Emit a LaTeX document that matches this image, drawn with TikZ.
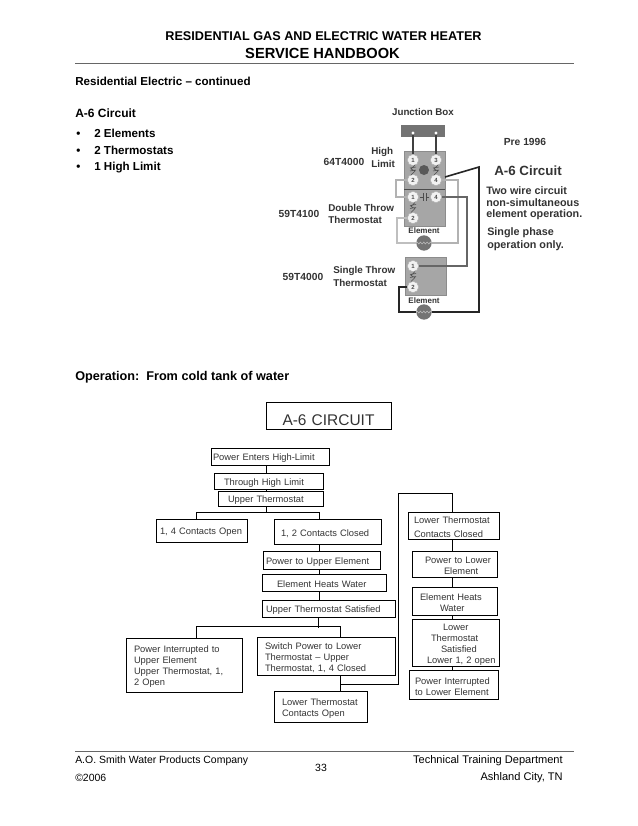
\documentclass[tikz,border=0pt]{standalone}
\usepackage{fontspec}
\setmainfont{Liberation Sans}
\usetikzlibrary{decorations.pathmorphing}
\newcommand{\ind}[1]{\hspace*{\dimexpr#1pt*3/4\relax}}
\newcommand{\fsz}[2]{\fontsize{#1}{#2}\selectfont}
\begin{document}
\begin{tikzpicture}[
  x=0.75pt, y=-0.75pt,
  flowbox/.style 2 args={draw, line width=0.6pt, inner xsep=0pt, inner ysep=0pt, align=left,
    minimum width=#1*0.75pt, minimum height=#2*0.75pt, text width=#1*0.75pt,
    font=\fsz{7}{8.3}, text=black!80, text height=7.8pt},
  conn/.style={line width=0.6pt},
  head/.style={font=\fsz{8.7}{10}\bfseries, anchor=base west},
  foot/.style={font=\fsz{7.85}{9}},
  pic/.style={font=\fsz{7.7}{10}\bfseries, text=black!80},
  picsmall/.style={font=\fsz{7.4}{10}\bfseries, text=black!80, anchor=west},
  piclbl/.style={font=\fsz{8.1}{10}\bfseries, text=black!80, anchor=west},
  term/.style={circle, draw=gray!60, fill=white!90!gray, inner sep=0pt, minimum size=8.5pt,
    font=\fsz{4.5}{5}\bfseries, text=black!70},
  heater/.style={circle, fill=black!55, inner sep=0pt, minimum size=11.5pt},
  plate/.style={fill=black!35, draw=black!45},
  wire/.style={line width=1.2pt},
]
\useasboundingbox (0,0) rectangle (638,826);

%% Page header
\node[font=\fsz{9.5}{11}\bfseries] (hdra) at (323.5,36) {RESIDENTIAL GAS AND ELECTRIC WATER HEATER};
\node[font=\fsz{11}{13}\bfseries] (hdrb) at (322.5,53) {SERVICE HANDBOOK};
\draw[black!60] (75,63) -- (574,63);
\node[head, inner sep=0pt] (cont) at (75,85) {Residential Electric -- continued};
\node[head, inner sep=0pt, font=\fsz{9}{10}\bfseries] (circ) at (75,117.5) {A-6 Circuit};
\foreach \y/\t/\n in {134/2 Elements/a, 150.5/2 Thermostats/b, 167/1 High Limit/c} {
  \node[head, inner sep=0pt] (bul\n) at (76,\y+3.5) {•};
  \node[head, inner sep=0pt] (item\n) at (94,\y+3.5) {\t};
}
\node[head, inner sep=0pt, font=\fsz{9.5}{11}\bfseries] (oper) at (75,380) {Operation:\ \ From cold tank of water};

%% Circuit picture: plates
\fill[black!55] (401,125) rectangle (445,137);
\fill[plate] (404,151) rectangle (445,189);
\fill[plate] (404,189) rectangle (445,226);
\fill[plate] (405,257) rectangle (446,295);
\draw[black!70] (404,189) -- (445,189);
\node[heater, fill=black!65, minimum size=7.5pt] (limdot) at (424,170) {};

%% Circuit picture: terminals
\foreach \x/\y/\t/\n in {413/160/1/la, 436/160/3/lc, 413/180/2/lb, 436/180/4/ld,
    413/197/1/ua, 436/197/4/ud, 413/218/2/ub, 413/266/1/sa, 413/287/2/sb} {
  \node[term] (\n) at (\x,\y) {\t};
}
\node[circle, fill=white, inner sep=0pt, minimum size=2.5pt] (jba) at (413,133) {};
\node[circle, fill=white, inner sep=0pt, minimum size=2.5pt] (jbb) at (436,133) {};
\node[heater] (elema) at (424,243) {};
\node[heater] (elemb) at (424,312) {};

%% Circuit picture: contact marks
\foreach \x/\y in {413/170, 436/170, 413/207.5, 413/276.5} {
  \draw[black!70, line width=0.4pt] (\x-3,\y-2) -- (\x+3,\y-3) (\x-3,\y+1) -- (\x+3,\y)
    (\x+2,\y-5) -- (\x-2,\y-1) -- (\x+2,\y+1) -- (\x-2,\y+5);
}
\draw[black!70, line width=0.5pt] (420,197) -- (423,197) (423,193) -- (423,201)
  (429,197) -- (426,197) (426,193) -- (426,201);
\foreach \e in {elema, elemb} {
  \draw[black!25, line width=0.4pt, decorate, decoration={snake, amplitude=0.7pt, segment length=2.5pt}]
    (\e.west) -- (\e.east);
}

%% Circuit picture: wires
\draw[black!75, wire] (jba) -- (jba |- la.north);
\draw[black!75, wire] (jbb) -- (jbb |- lc.north);
\draw[black!30, wire] (lb.west) -- (396,180) -- (396,197) -- (ua.west);
\draw[black!25, wire] (ub.west) -- (397,218) -- (397,243) -- (elema.west);
\draw[black!30, wire] (elema.east) -- (458,243) -- (458,180) -- (ld.east);
\draw[black!60, line width=1.5pt] (ud.east) -- (467,197) -- (467,266) -- (sa.east);
\draw[black!85, wire] (445,177) -- (479,167) -- (479,312) -- (elemb.east);
\draw[black!85, wire] (elemb.west) -- (399,312) -- (399,287) -- (sb.west);

%% Circuit picture: labels
\node[pic, inner sep=0pt, font=\fsz{7.3}{10}\bfseries] (jblbl) at (423,112) {Junction Box};
\node[pic, inner sep=0pt] (parta) at (344,162) {64T4000};
\node[pic, inner sep=0pt] (partb) at (299,214) {59T4100};
\node[pic, inner sep=0pt] (partc) at (303,277) {59T4000};
\foreach \x/\y/\t/\n in {371/152/High/p, 371/164/Limit/q, 328/208/Double Throw/r,
    328/219.5/Thermostat/s, 333/271/Single Throw/t, 333/283/Thermostat/u} {
  \node[picsmall, inner sep=0pt] (lbl\n) at (\x,\y) {\t};
}
\foreach \x/\y/\t/\n in {486/191/Two wire circuit/v, 486/203/non-simultaneous/w,
    486/215/element operation./x, 487/233/Single phase/y, 487/246/operation only./z} {
  \node[piclbl, inner sep=0pt] (lbl\n) at (\x,\y) {\t};
}
\node[pic, inner sep=0pt, font=\fsz{6}{7}\bfseries] (ela) at (424,231) {Element};
\node[pic, inner sep=0pt, font=\fsz{6}{7}\bfseries] (elb) at (424,301) {Element};
\node[pic, inner sep=0pt] (pre) at (525,142) {Pre 1996};
\node[pic, inner sep=0pt, font=\fsz{10}{12}\bfseries] (abig) at (528,171) {A-6 Circuit};

%% Flow chart: title
\node[flowbox={125}{27}, font=\fsz{11.6}{14}, align=center, text height=15pt] (title) at (328.5,415.5) {A-6 CIRCUIT};

%% Flow chart: left side
\node[flowbox={118}{17}] (enters) at (270,456.5) {\ind{2}Power Enters High-Limit};
\node[flowbox={109}{16}] (through) at (268.5,481) {\ind{10}Through High Limit};
\node[flowbox={105}{15}] (upperth) at (270.5,498.5) {\ind{10}Upper Thermostat};
\node[flowbox={91}{23}] (upopen) at (201.5,530.5) {\ind{4}1, 4 Contacts Open};
\node[flowbox={107}{25}] (upclosed) at (327.5,531.5) {\ind{7}1, 2 Contacts Closed};
\node[flowbox={117}{18}] (powerup) at (321.5,560) {\ind{3}Power to Upper Element};
\node[flowbox={124}{17}] (heatup) at (324,582.5) {\ind{15}Element Heats Water};
\node[flowbox={133}{17}] (upsat) at (328.5,608.5) {\ind{4}Upper Thermostat Satisfied};
\node[flowbox={116}{54}] (upint) at (184,665) {\ind{8}Power Interrupted to\\\ind{8}Upper Element\\\ind{8}Upper Thermostat, 1,\\\ind{8}2 Open};
\node[flowbox={138}{38}] (switch) at (326,656) {\ind{8}Switch Power to Lower\\\ind{8}Thermostat -- Upper\\\ind{8}Thermostat, 1, 4 Closed};
\node[flowbox={93}{31}] (lowopen) at (320.5,706.5) {\ind{8}Lower Thermostat\\\ind{8}Contacts Open};

%% Flow chart: right side
\node[flowbox={91}{27}] (lowclosed) at (453.5,525.5) {\ind{6}Lower Thermostat\\[2pt]\ind{6}Contacts Closed};
\node[flowbox={85}{26}] (powerlow) at (454.5,564) {\ind{13}Power to Lower\\\ind{32}Element};
\node[flowbox={85}{28}] (heatlow) at (454.5,601) {\ind{8}Element Heats\\\ind{28}Water};
\node[flowbox={87}{47}] (lowsat) at (455.5,642.5) {\ind{31}Lower\\\ind{19}Thermostat\\\ind{29}Satisfied\\\ind{15}Lower 1, 2 open};
\node[flowbox={89}{29}] (lowint) at (453.5,684.5) {\ind{6}Power Interrupted\\\ind{6}to Lower Element};

%% Flow chart: connector points
\coordinate (spine) at (266,512);
\coordinate (forkl) at (196,512);
\coordinate (forkr) at (319,512);
\coordinate (satdrop) at (318,628);
\coordinate (satl) at (196,626);
\coordinate (satr) at (340,626);
\coordinate (teeb) at (340,684);
\coordinate (riser) at (398,684);
\coordinate (risetop) at (398,493);
\coordinate (rightcol) at (452,493);

\draw[conn] (enters.south -| spine) -- (through.north -| spine);
\draw[conn] (through.south -| spine) -- (upperth.north -| spine);
\draw[conn] (upperth.south -| spine) -- (spine);
\draw[conn] (upopen.north -| forkl) -- (forkl) -- (forkr) -- (upclosed.north -| forkr);
\foreach \a/\b in {upclosed/powerup, powerup/heatup, heatup/upsat} {
  \draw[conn] (\a.south -| forkr) -- (\b.north -| forkr);
}
\draw[conn] (upsat.south -| satdrop) -- (satdrop);
\draw[conn] (upint.north -| satl) -- (satl) -- (satr) -- (switch.north -| satr);
\draw[conn] (switch.south -| satr) -- (lowopen.north -| satr);
\draw[conn] (teeb) -- (riser) -- (risetop) -- (rightcol) -- (lowclosed.north -| rightcol);
\foreach \a/\b in {lowclosed/powerlow, powerlow/heatlow, heatlow/lowsat, lowsat/lowint} {
  \draw[conn] (\a.south -| rightcol) -- (\b.north -| rightcol);
}

%% Page footer
\draw[black!60] (75,751) -- (574,751);
\node[foot, anchor=west, inner sep=0pt] (ftra) at (75,761) {A.O. Smith Water Products Company};
\node[foot, anchor=west, inner sep=0pt] (ftrb) at (75,778) {©2006};
\node[foot, inner sep=0pt] (pageno) at (321,768) {33};
\node[foot, anchor=east, inner sep=0pt, font=\fsz{8.3}{9}] (ftrc) at (563,761) {Technical Training Department};
\node[foot, anchor=east, inner sep=0pt, font=\fsz{8.3}{9}] (ftrd) at (563,778) {Ashland City, TN};
\end{tikzpicture}
\end{document}
